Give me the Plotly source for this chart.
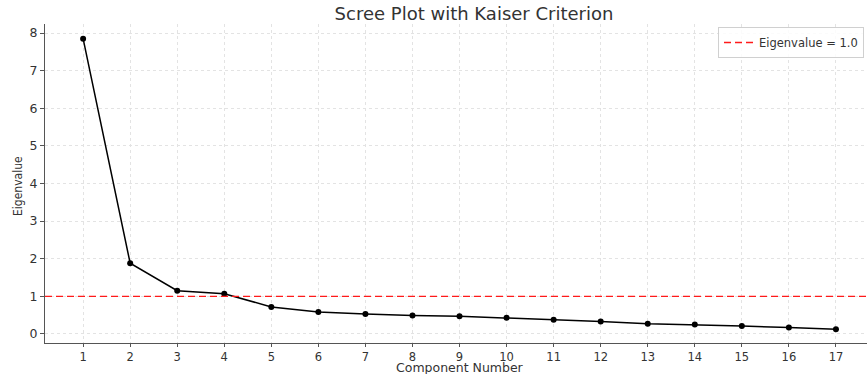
import plotly.graph_objects as go

components = list(range(1, 18))
eigenvalues = [7.85, 1.88, 1.15, 1.07, 0.72, 0.585, 0.53, 0.49, 0.47, 0.43,
               0.38, 0.33, 0.27, 0.25, 0.21, 0.17, 0.125]
kaiser_value = 1.0
y_ticks = [0, 1, 2, 3, 4, 5, 6, 7, 8]

W, H = 867, 374
ml, mr, mt, mb = 45, 0, 24, 31
PW, PH = W - ml - mr, H - mt - mb

def px_x(x):
    return (x - ml) / PW

def px_y(y):
    return (H - mb - y) / PH

fig = go.Figure()
fig.add_trace(go.Scatter(
    x=components, y=eigenvalues, mode="lines+markers",
    line=dict(color="black", width=1.5),
    marker=dict(color="black", size=6),
    showlegend=False,
))
fig.add_trace(go.Scatter(
    x=[0.19, 17.66], y=[kaiser_value, kaiser_value], mode="lines",
    line=dict(color="#ff1a1a", width=1.4, dash="7px,4px"),
    name="Eigenvalue = 1.0", showlegend=True,
))

font = "DejaVu Sans, Verdana, sans-serif"
fig.update_layout(
    width=W, height=H,
    margin=dict(l=ml, r=mr, t=mt, b=mb, autoexpand=False),
    paper_bgcolor="white", plot_bgcolor="white",
    font=dict(family=font, size=11, color="#333"),
    title=dict(text="Scree Plot with Kaiser Criterion", x=474 / W, xanchor="center",
               y=1 - 14 / H, yanchor="middle",
               font=dict(family=font, size=18, color="#333")),
    legend=dict(x=px_x(718), xanchor="left", y=px_y(27), yanchor="top",
                bordercolor="#d0d0d0", borderwidth=1, bgcolor="rgba(255,255,255,0.85)",
                font=dict(family=font, size=11.5, color="#333"),
                itemwidth=30, tracegroupgap=0),
    annotations=[
        dict(text="Component Number", x=px_x(460), y=px_y(367.5), xref="paper", yref="paper",
             xanchor="center", yanchor="middle", showarrow=False,
             font=dict(family=font, size=12.5, color="#333")),
        dict(text="Eigenvalue", x=px_x(18), y=px_y(186), xref="paper", yref="paper",
             xanchor="center", yanchor="middle", showarrow=False, textangle=-90,
             font=dict(family="DejaVu Sans Condensed, DejaVu Sans, sans-serif", size=12, color="#333")),
    ],
)
fig.update_xaxes(
    range=[0.19, 17.66], tickvals=components, ticktext=[str(c) for c in components],
    showgrid=True, gridcolor="#e3e3e3", griddash="dot", gridwidth=1,
    showline=True, linecolor="#555", linewidth=1.3,
    ticks="outside", ticklen=3, tickcolor="#555",
    tickfont=dict(family=font, size=11.5, color="#333"),
    zeroline=False, automargin=False,
)
fig.update_yaxes(
    range=[-0.24, 8.24], tickvals=y_ticks,
    showgrid=True, gridcolor="#e3e3e3", griddash="dot", gridwidth=1,
    showline=True, linecolor="#555", linewidth=1.3,
    ticks="outside", ticklen=4, tickcolor="#555",
    tickfont=dict(family=font, size=12.5, color="#333"),
    zeroline=False, automargin=False,
)

fig.write_html("out.html", config={"displayModeBar": False},
               post_script="document.body.style.margin='0';document.body.style.overflow='hidden';")
